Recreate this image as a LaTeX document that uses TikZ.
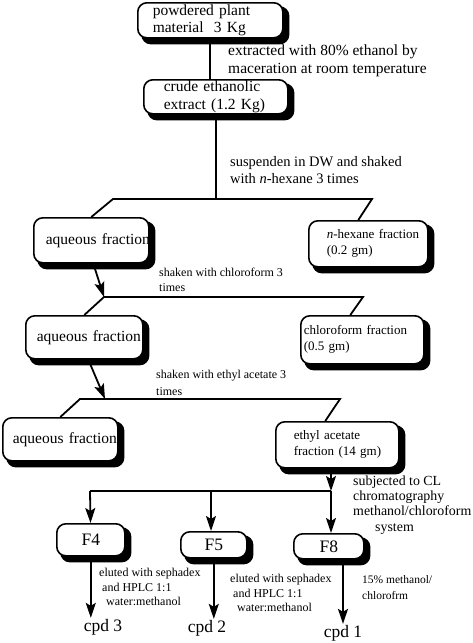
\documentclass[tikz,border=0pt]{standalone}
\usepackage{fontspec}
\setmainfont{Liberation Serif}
\usetikzlibrary{arrows.meta,backgrounds}

\begin{document}
\begin{tikzpicture}[x=1pt, y=-1pt,
  box/.style = {draw, line width=1.6pt, rounded corners=9pt, fill=white, align=left,
    anchor=north west, inner ysep=1pt},
  boxshade/.style = {draw, fill, line width=1.6pt, rounded corners=9pt},
  line/.style = {line width=1.8pt},
  arr/.style = {line, -{Stealth[length=15pt,width=10pt,inset=3pt]}},
  note/.style = {align=left, inner sep=0pt, anchor=west},
  bigfont/.style = {font=\fontsize{15.5}{17.5}\selectfont},
  midfont/.style = {font=\fontsize{13}{16}\selectfont},
  smallfont/.style = {font=\fontsize{12}{15}\selectfont},
  hugefont/.style = {font=\fontsize{17.5}{20}\selectfont}]
\useasboundingbox (0,0) rectangle (473,643);

\node[box, bigfont, inner xsep=15pt, text width=115pt, minimum height=35pt] (raw) at (137,2) {powdered plant\\material\ \ 3 Kg};
\node[box, bigfont, inner xsep=20pt, text width=104pt, minimum height=34pt] (crude) at (143,79) {crude ethanolic\\\mbox{extract (1.2 Kg)}};
\node[box, bigfont, inner xsep=12pt, text width=91pt, minimum height=45pt] (aq1) at (33,217) {\mbox{aqueous fraction}};
\node[box, midfont, inner xsep=18pt, text width=83pt, minimum height=46pt] (hex) at (308,220) {\mbox{\textit{n}-hexane fraction}\\(0.2 gm)};
\node[box, bigfont, inner xsep=11pt, text width=95pt, minimum height=43pt] (aq2) at (25,315) {\mbox{aqueous fraction}};
\node[box, midfont, inner xsep=3pt, text width=117pt, minimum height=48pt] (chl) at (300,315) {chloroform fraction\\(0.5 gm)};
\node[box, bigfont, inner xsep=10pt, text width=95pt, minimum height=43pt] (aq3) at (2,417) {\mbox{aqueous fraction}};
\node[box, midfont, inner xsep=18pt, text width=87pt, minimum height=46pt] (eth) at (275,421) {ethyl acetate\\\mbox{fraction (14 gm)}};
\node[box, hugefont, minimum width=68pt, minimum height=32pt] (f4) at (56,523) {F4};
\node[box, hugefont, minimum width=66pt, minimum height=26pt] (f5) at (180,531) {F5};
\node[box, hugefont, minimum width=70pt, minimum height=25pt] (f8) at (293,533) {F8};
\node[hugefont, inner sep=1pt] (c3) at (103,627) {cpd 3};
\node[hugefont, inner sep=1pt] (c2) at (207,628) {cpd 2};
\node[hugefont, inner sep=1pt] (c1) at (343,633) {cpd 1};

\node[note, font=\fontsize{15.5}{18}\selectfont] (t1) at (228,61) {extracted with 80\% ethanol by\\maceration at room temperature};
\node[note, font=\fontsize{14.5}{16.5}\selectfont] (t2) at (230,170) {suspenden in DW and shaked\\with \textit{n}-hexane 3 times};
\node[note, smallfont] (t3) at (159,280) {shaken with chloroform 3\\times};
\node[note, font=\fontsize{12}{16.5}\selectfont] (t4) at (156,383) {shaken with ethyl acetate 3\\times};
\node[note, font=\fontsize{13.9}{15.3}\selectfont] (t5) at (353,505) {subjected to CL\\chromatography\\methanol/chloroform\\\hspace*{22pt}system};
\node[note, font=\fontsize{12}{14.5}\selectfont] (t6) at (99,587) {eluted with sephadex\\\hspace*{3pt}and HPLC 1:1\\\hspace*{7pt}water:methanol};
\node[note, font=\fontsize{12}{14.5}\selectfont] (t7) at (230,593) {eluted with sephadex\\\hspace*{3pt}and HPLC 1:1\\\hspace*{7pt}water:methanol};
\node[note, font=\fontsize{11.5}{16}\selectfont] (t8) at (362,588) {15\% methanol/\\chlorofrm};

\begin{scope}[on background layer]
\foreach \b in {raw,crude,aq1,hex,aq2,chl,aq3,eth,f4,f5,f8}
  \draw[boxshade] ([shift={(5pt,-5pt)}]\b.north west) rectangle ([shift={(5pt,-5pt)}]\b.south east);
\end{scope}

\coordinate (s1l) at (113,199);
\coordinate (s1r) at (372,199);
\coordinate (s2l) at (104,297);
\coordinate (s2r) at (363,297);
\coordinate (s3l) at (80,399);
\coordinate (s3a) at (105,399);
\coordinate (s3r) at (340,399);
\coordinate (b4) at (90,491);
\coordinate (b5) at (211,491);
\coordinate (b8) at (331,491);

\draw[line] (raw) -- (raw |- crude.north);
\draw[line] (crude) -- (crude |- s1l);
\draw[line] (aq1.north) -- (s1l) -- (s1r) -- ([xshift=-10pt]hex.north);
\draw[arr] ([xshift=2pt]aq1.south) -- (s2l);
\draw[line] (aq2.north) -- (s2l) -- (s2r) -- ([xshift=-12pt]chl.north);
\draw[arr] ([xshift=4pt]aq2.south) -- (s3a);
\draw[line] (aq3.north) -- (s3l) -- (s3r) -- ([xshift=-12pt]eth.north);
\draw[arr] (eth.south -| b8) -- (b8);
\draw[line] (b4) -- (b8);
\draw[arr] (b4) -- (f4);
\draw[arr] (b5) -- (b5 |- f5.north);
\draw[arr] (b8) -- (b8 |- f8.north);
\draw[arr] (f4) -- (f4 |- c3.north);
\draw[arr] (f5) -- (f5 |- c2.north);
\draw[arr] (c1 |- f8.south) -- (c1);
\end{tikzpicture}
\end{document}
